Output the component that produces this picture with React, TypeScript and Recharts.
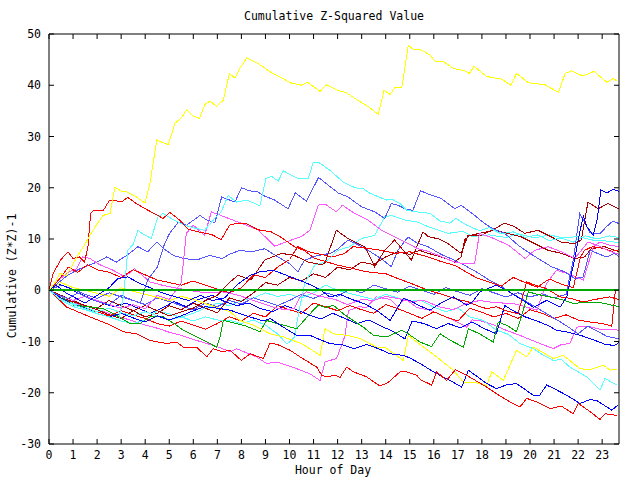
import React from 'react';
import { LineChart, Line, XAxis, YAxis } from 'recharts';

const hourTicks = [0, 1, 2, 3, 4, 5, 6, 7, 8, 9, 10, 11, 12, 13, 14, 15, 16, 17, 18, 19, 20, 21, 22, 23];
const valueTicks = [-30, -20, -10, 0, 10, 20, 30, 40, 50];

type Pt = [number, number];

const yellowTop: Pt[] = [[0,0],[0.25,1.5],[0.46,3.3],[0.7,2.8],[1.01,5.2],[1.29,7.5],[1.5,9],[1.7,10.7],[1.83,11.7],[2.05,13.3],[2.25,14.6],[2.54,15],[2.74,20.1],[3.02,19.3],[3.23,19.2],[3.64,18.2],[3.99,17],[4.2,20.9],[4.48,29.3],[4.96,28.4],[5.24,32.6],[5.52,33.7],[5.72,35.2],[6.0,34],[6.25,33.5],[6.49,36.3],[6.69,36.9],[6.97,35.9],[7.25,37.1],[7.5,42.3],[7.73,41.4],[7.94,43.3],[8.22,45.3],[8.63,44.4],[8.91,43.6],[9.26,42.4],[9.74,41.3],[10.02,40.5],[10.5,40],[10.74,40.6],[11.27,38.8],[11.52,40.1],[11.96,39.1],[12.38,38.5],[12.79,37.2],[13.35,35.6],[13.69,34.3],[13.93,39],[14.18,38.2],[14.39,39.6],[14.67,39.6],[14.94,47.8],[15.15,47],[15.43,47],[15.84,45.9],[16.05,44.7],[16.4,44.6],[16.81,43.3],[17.3,42.8],[17.48,42.3],[17.67,43.7],[18.2,41.7],[18.82,41.2],[19.2,40],[19.44,42.3],[19.93,40.5],[20.62,40.1],[21.18,38.6],[21.46,42.3],[21.73,42.8],[22.19,41.8],[22.66,42.7],[23.19,40.6],[23.46,41.3],[23.63,40.8]];

const yellowLow: Pt[] = [[0,0],[0.5,1.5],[1,0.5],[1.5,0],[2,-0.6],[2.5,-1.2],[3,0.5],[3.5,-0.2],[4,-0.8],[4.5,-1.4],[5,-2],[5.5,-1.2],[6,-1.8],[6.5,-2.6],[7,-3.4],[7.53,-4.2],[7.94,-5.9],[8.5,-6.8],[9.19,-8.5],[9.74,-9.1],[10.5,-10.4],[11.27,-12.7],[11.48,-7.5],[11.82,-8.5],[12.4,-8.8],[12.93,-9.4],[13.62,-11.1],[14.0,-11.2],[14.73,-13.7],[14.94,-8.8],[15.29,-10.1],[15.84,-12],[16.12,-13],[16.81,-15.6],[17.23,-17.9],[17.7,-18],[18.2,-18.6],[18.41,-15.9],[18.89,-17.6],[19.44,-11.7],[19.86,-13],[20.14,-11.1],[20.97,-13.3],[21.38,-12.7],[22.08,-15.3],[22.5,-15.5],[23.05,-14.6],[23.33,-15.6],[23.6,-15.4]];

const redA: Pt[] = [[0,0],[0.17,3.3],[0.5,6],[0.79,7.5],[1.0,6.2],[1.27,6.5],[1.48,5.5],[1.62,8.5],[1.73,15],[1.83,15.5],[2.25,15.5],[2.52,17.6],[2.87,17.4],[3.0,17.2],[3.28,18.1],[3.63,16.9],[4.12,15.6],[4.53,14.6],[4.74,14],[5.02,15.2],[5.43,13.7],[5.78,11.9],[6.2,11.4],[6.75,10.9],[7.16,9.9],[7.51,12.7],[7.86,13.1],[8.2,13],[8.69,11.8],[9.24,11.4],[9.66,10.3],[10.2,8.5],[10.6,7.8],[11.05,6.2],[11.5,5.6],[12,4.9],[12.5,4.4],[13,3.8],[13.5,3.4],[13.96,3.3],[14.5,2.3],[15.07,1.3],[15.76,0],[16.2,-0.6],[16.6,-1.2],[17,-1.8],[17.4,-2.2],[17.8,-3],[18.2,-3.6],[18.6,-3.2],[19,-4],[19.5,-4.6],[19.86,1.6],[20.3,0.9],[20.69,0.3],[21.25,-1.3],[21.7,-1.6],[22.2,-2.3],[22.7,-1.8],[23.3,-1.3],[23.7,-1.8]];

const redMid: Pt[] = [[0,0],[0.4,2],[0.8,4.5],[1.2,3.5],[1.6,5],[2.0,4],[2.5,3.5],[3,2.5],[3.5,4],[4,3],[4.5,2],[5,1.5],[5.5,1],[6,1.8],[6.5,1],[7,0.2],[7.5,-0.5],[8,0.5],[8.5,3],[9,2.5],[9.5,4.5],[10,6],[10.35,8.5],[10.8,7.5],[11.3,7],[11.8,6.5],[12.3,7.2],[12.64,8.5],[13.2,8.2],[13.8,7.8],[14.4,7.2],[15,7.5],[15.76,6.5],[16.3,5.6],[16.9,4.8],[17.4,3.4],[17.84,2.3],[18.3,1.6],[18.8,0.8],[19.3,2.5],[19.8,1.5],[20.3,0.6],[20.8,2.2],[21.3,1.2],[21.8,0.5],[22.1,6.5],[22.27,7.8],[22.6,8.5],[23.0,8.2],[23.4,7.6],[23.7,7.9]];

const redJump: Pt[] = [[0,0],[0.5,-1.5],[1,-2.5],[1.5,-3.5],[2,-4.2],[2.5,-5],[3,-4],[3.5,-4.8],[4,-5.5],[4.5,-6.5],[5,-7],[5.5,-6],[6,-6.8],[6.5,-7.6],[7,-6.5],[7.5,-5.2],[8,-6],[8.5,-4.5],[9,-5.2],[9.5,-3],[10,-3.8],[10.5,-4.5],[11,-2.5],[11.5,-3.2],[12,-4],[12.5,-3],[13,-3.8],[13.5,-4.5],[14,-2.8],[14.5,-3.6],[15,-4.5],[15.5,-5.5],[16,-4.2],[16.5,-5.2],[17,-6],[17.5,-3.5],[18,-4.3],[18.5,-5.2],[19,-4.5],[19.5,-5.5],[20,-3.8],[20.5,-4.5],[21,-5.5],[21.5,-4.8],[22,-5.8],[22.5,-6.2],[23,-6.5],[23.4,-7],[23.55,0],[23.7,0.2]];

const redLow: Pt[] = [[0,0],[0.74,-3.3],[1.2,-4.2],[1.7,-5.2],[2.4,-6.5],[3.09,-8.1],[3.65,-8.5],[4.2,-9.8],[4.89,-10.4],[5.31,-10.1],[5.58,-11.1],[6.14,-11.1],[6.56,-13],[6.83,-11.4],[7.2,-12],[7.53,-11.7],[8.0,-13.7],[8.36,-12.4],[8.91,-13.3],[9.19,-10.3],[9.5,-10.6],[10.02,-11.7],[10.44,-13],[11.13,-15],[11.34,-16.6],[11.55,-16.9],[11.89,-16.6],[12.1,-17],[12.38,-15],[12.65,-15.9],[13.21,-16.9],[13.76,-18.7],[14.1,-18],[14.6,-15.9],[14.87,-15.9],[15.29,-16.6],[15.43,-17.4],[15.91,-18.5],[16.12,-15.9],[16.53,-17.6],[16.9,-15.5],[17.37,-16.6],[18.2,-18.9],[18.61,-20.2],[19.17,-21.8],[19.58,-22.8],[19.86,-21.1],[20.3,-21.8],[20.83,-23.1],[21.3,-22.6],[21.8,-24.1],[22.01,-22.1],[22.5,-23.7],[22.91,-25.2],[23.12,-24.1],[23.6,-24.4]];

const cyanTop: Pt[] = [[0,0],[0.5,-1.8],[1,-2.8],[1.5,-3.6],[2,-4.5],[2.5,-5.2],[2.9,-5.8],[3.1,-1],[3.28,7.8],[3.5,9],[3.7,11.7],[3.9,11],[4.25,10.1],[4.53,14.3],[4.74,15],[5.08,14],[5.64,12.7],[6.0,12.2],[6.47,11.7],[6.89,14],[7.16,15.3],[7.45,18.5],[7.8,17.2],[8.22,17.6],[8.77,16.5],[9.02,21.8],[9.26,22.2],[9.53,21.3],[9.74,23.3],[10.3,21.9],[10.78,21.8],[10.99,25],[11.2,25],[11.68,23.4],[12.24,21.1],[12.72,20],[13.07,19.8],[13.35,18.9],[14.04,17.6],[14.25,17.8],[14.6,16.9],[14.87,15.6],[15.29,15.3],[15.84,15],[16.26,13.5],[16.67,13.1],[16.92,14],[17.37,12.7],[17.9,11.6],[18.3,12.2],[18.8,11],[19.3,11.4],[19.8,10.3],[20.3,10.8],[20.8,9.7],[21.3,10.2],[21.8,9.4],[22.3,10.6],[22.8,10],[23.3,10.6],[23.7,10.3]];

const cyanMid: Pt[] = [[0,0],[0.5,-1.6],[1,-2.6],[1.5,-3.3],[2,-4.2],[2.5,-3.5],[3,-4.4],[3.5,-5],[4,-4.2],[4.5,-5],[5,-5.8],[5.5,-5.2],[6,-6],[6.5,-5.2],[7,-5.8],[7.53,-5.9],[8,-6.5],[8.5,-5.8],[9,-6.8],[9.5,-8.5],[9.9,-10.5],[10.2,-9.2],[10.4,-4],[10.63,1.3],[11.05,4.9],[11.5,5.5],[12.02,7.8],[12.5,8.5],[12.99,10.1],[13.54,10.7],[13.96,14.3],[14.23,14.6],[14.79,13.7],[15.34,13.3],[15.76,12.4],[16.59,11.1],[17.2,11.5],[17.6,10.5],[18.3,10.8],[19,10.3],[19.5,11],[20.2,10.2],[20.8,10.8],[21.4,10.2],[22.0,10.5],[22.6,9.8],[23.2,9.6],[23.7,9.3]];

const cyanLow: Pt[] = [[0,0],[0.5,-2],[1,-3.2],[1.5,-3.8],[2,-4.6],[2.5,-5.2],[3,-6],[3.5,-6.5],[4,-5.8],[4.5,-4],[5,-4.6],[5.5,-5.3],[6,-4.5],[6.5,-3.5],[7,-2.5],[7.5,-3],[8,-2],[8.5,-1.5],[9,-0.5],[9.5,-1.2],[10,-0.8],[10.5,-1.5],[11,-0.5],[11.5,1],[12,0],[12.5,-0.6],[13,-1.2],[13.5,-1.8],[14,-0.8],[14.5,-1.5],[15,-2.2],[15.43,-1.9],[16,-3.3],[16.5,-4.2],[17,-3.5],[17.5,-5.2],[18.06,-5.9],[18.61,-7.8],[19.1,-8.6],[19.58,-10.4],[20.14,-11.4],[20.5,-12.5],[20.97,-13.7],[21.3,-13.5],[21.66,-15],[22.36,-16.9],[22.91,-19.5],[23.12,-17.2],[23.6,-18.5]];

const lightBlueA: Pt[] = [[0,0],[0.4,-1],[0.8,-1.6],[1.2,-0.5],[1.6,-1.5],[2.0,-2.2],[2.5,-2.8],[3,-1],[3.4,-1.8],[3.8,-2.5],[4.1,2],[4.5,4.5],[4.8,9],[5.0,11],[5.38,13.3],[5.72,12.7],[6.28,14.6],[6.56,13.7],[6.9,13.2],[7.18,18.2],[7.73,17.2],[8.0,20],[8.34,19.4],[8.69,19.2],[8.9,18.5],[9.38,17.6],[9.94,15.9],[10.24,19],[10.7,17.4],[11.21,22],[11.53,20.8],[12.02,19],[12.43,18.2],[12.99,16.3],[13.54,15.3],[13.96,14],[14.23,16.9],[14.51,16.6],[14.79,15.9],[15.13,15.6],[15.45,19.4],[15.76,18.8],[16.31,17.9],[16.87,15.9],[17.14,16.6],[17.7,14.6],[18.12,13],[18.46,12],[18.95,11.1],[19.5,8.8],[19.9,7.5],[20.33,6.2],[20.89,4.6],[21.44,3.6],[21.86,2.3],[22.2,2.5],[22.5,7.8],[22.9,7],[23.2,6.5],[23.5,7.2],[23.7,6.6]];

const lightBlueB: Pt[] = [[0,0],[0.5,1],[1,0.2],[1.5,-0.8],[2,-1.6],[2.5,-0.5],[3,-1.3],[3.5,-2],[4,-2.8],[4.5,-1.5],[5,-2.2],[5.5,-3],[6,-3.8],[6.5,-2.5],[7,-3.2],[7.5,-2],[8,-2.7],[8.5,-1.5],[9,-2.2],[9.5,-3],[10,-2],[10.5,-0.8],[11,-1.6],[11.5,-0.5],[12,-1.2],[12.5,0.2],[13,-0.5],[13.5,1],[14,0.3],[14.5,-0.4],[15,0.8],[15.5,0],[16,-0.8],[16.5,0.5],[17,-0.3],[17.5,-1],[18,0.3],[18.5,-0.5],[19,-1.3],[19.5,-0.5],[20,-1.3],[20.5,-0.7],[21,-1.5],[21.5,-0.8],[21.8,5.9],[22.07,15],[22.5,11.2],[22.9,11],[23.2,12.5],[23.45,13.5],[23.7,13]];

const lightBlueC: Pt[] = [[0,0],[0.4,1.5],[0.8,3],[1.2,4],[1.6,4.8],[2,5.5],[2.4,6.5],[2.8,5.5],[3.23,6.8],[3.7,8.5],[4.1,7.5],[4.48,9.4],[4.8,8],[5.17,6.8],[5.6,6.2],[6.14,5.9],[6.69,6.8],[7.2,6.2],[7.5,7],[7.94,7.8],[8.4,7.5],[8.97,8.1],[9.52,6.5],[10.0,5.2],[10.35,3.6],[10.63,5.9],[11.19,6.8],[11.7,7.2],[12.0,8],[12.43,9.8],[12.8,9],[13.26,7.8],[13.8,6.2],[14.23,4.6],[14.51,7.8],[14.93,10.4],[15.3,9.2],[15.76,8.5],[16.3,7],[16.8,6],[17.3,4.8],[17.8,3.5],[18.3,2],[18.8,0.8],[19.2,-0.5],[19.7,-1.8],[20.2,-3.2],[20.7,-4.6],[21.2,-6],[21.6,-7.2],[22.0,-8.5],[22.4,-7],[22.8,-8],[23.2,-9],[23.7,-9.5]];

const magentaA: Pt[] = [[0,0],[0.5,-1.2],[1,-2],[1.5,-1.2],[2,-2],[2.5,-2.8],[3,-3.5],[3.5,-2.8],[4,-3.6],[4.5,-1],[5,-1.8],[5.5,1.5],[5.71,11.1],[6.0,12.7],[6.47,10.7],[6.75,15.3],[7.2,14.5],[7.86,13.3],[8.69,11.8],[9.38,8.6],[9.9,9.5],[10.5,10.5],[10.85,11.7],[11.2,16.6],[11.48,16.8],[11.95,15.3],[12.2,16.6],[12.71,15],[13.26,13.7],[13.82,11.7],[14.37,10.4],[14.93,9.1],[15.34,8.1],[15.76,7.6],[16.3,6.6],[16.8,5.6],[17.1,5.3],[17.7,5.3],[17.9,11.1],[18.5,10.1],[19.1,8.8],[19.8,6.2],[20.2,7.8],[20.75,8.5],[21.3,7.5],[21.86,6.2],[22.41,9.4],[22.9,8.6],[23.3,7.6],[23.7,7.0]];

const magentaB: Pt[] = [[0,0],[0.4,2],[0.8,3.5],[1.15,4.2],[1.4,6.5],[1.7,6.2],[2.1,5],[2.67,3.9],[3.15,2.6],[3.56,4.2],[4.2,1.6],[4.7,1],[5.2,0.5],[5.8,0],[6.5,-0.5],[7.2,-0.3],[7.9,-1],[8.5,-2],[9.33,-3.3],[9.8,-3.8],[10.2,-3.6],[10.44,-1.3],[10.7,-0.3],[11.3,-1.2],[11.9,-1.8],[12.4,-2.8],[13.0,-1.8],[13.49,-2],[14.0,-1.2],[14.5,-1.6],[15.0,-2.2],[15.6,-2],[16.2,-3.2],[16.8,-3.8],[17.4,-2.5],[17.92,-2],[18.5,-2.4],[19.3,-2.6],[19.8,-3.2],[20.28,-3.9],[20.69,1.3],[21.1,3.9],[21.6,3.2],[22.22,2],[22.64,8.5],[22.9,9.4],[23.3,8.8],[23.7,8.5]];

const magentaLow: Pt[] = [[0,0],[0.5,-1.5],[1,-2.5],[1.5,-3],[2,-3.8],[2.5,-4.5],[3,-5.3],[3.5,-6],[4,-6.8],[4.5,-7.4],[5,-8.2],[5.5,-8.8],[6,-9.6],[6.5,-10.3],[7,-11],[7.53,-12],[7.8,-11.4],[8.1,-12],[8.63,-13],[9.05,-14.3],[9.47,-14],[10.3,-15.3],[10.85,-16.3],[11.27,-17.6],[11.48,-14],[11.96,-13.3],[12.3,-9],[12.45,-4],[12.9,-3.2],[13.2,-3.4],[13.6,-1.3],[14.2,-1.8],[14.5,-3.2],[14.8,-1.6],[15.3,-3.4],[15.84,-3.9],[16.3,-4.8],[16.8,-5.8],[17.37,-7.2],[17.6,-5.8],[17.92,-5.9],[18.5,-6.8],[19.0,-7.8],[19.58,-8.8],[20.2,-10],[20.97,-11.4],[21.3,-10.6],[21.66,-10.4],[21.94,-7.2],[22.4,-7],[22.9,-7.6],[23.3,-7.6],[23.7,-7.8]];

const blueJump: Pt[] = [[0,0],[0.3,1],[0.7,-0.5],[1.1,-1.5],[1.5,-2.5],[2.0,-1],[2.5,0.5],[2.87,2.3],[3.28,2.6],[3.7,1.5],[4.2,0.5],[4.7,-0.5],[5.2,-1.2],[5.8,-2],[6.3,-1],[6.8,-2],[7.3,-1.5],[7.8,1],[8.36,2.9],[8.77,3.6],[9.33,3.9],[9.88,2.9],[10.4,2],[10.9,1],[11.3,0],[11.68,-1.3],[12.1,-0.8],[12.6,-1.8],[13.1,-2.6],[13.62,-3.9],[14.18,-5.9],[14.73,-1.6],[15.0,-2],[15.4,-3],[15.84,-3.9],[16.26,-2.6],[16.81,-1.3],[17.37,-2.9],[17.6,-2.3],[17.92,-0.3],[18.61,1],[19.03,0],[19.58,-1.6],[20.14,-3.3],[20.69,-2],[21.25,-3.3],[21.53,-1.3],[21.87,6.5],[22.07,11.4],[22.22,14.5],[22.35,12.5],[22.63,10.7],[22.8,14],[22.95,19.6],[23.2,19],[23.45,19.7],[23.7,19.3]];

const blueMid: Pt[] = [[0,0],[0.4,1.2],[0.8,0.5],[1.2,-0.5],[1.7,-1.5],[2.2,-2.5],[2.7,-3.2],[3.2,-2.5],[3.7,-3.5],[4.2,-4.5],[4.7,-3.5],[5.2,-2.2],[5.7,-3.2],[6.2,-1.8],[6.8,-1],[7.3,-2.2],[7.8,-3],[8.3,-2.5],[8.8,-3.6],[9.3,-4.2],[9.8,-3],[10.3,-3.8],[10.8,-4.8],[11.3,-5.6],[11.8,-4.5],[12.3,-5.5],[12.8,-6.5],[13.3,-5.8],[13.8,-7],[14.3,-8],[14.8,-9.5],[15.1,-6],[15.6,-6.5],[16.1,-7.5],[16.6,-6.5],[17.1,-7.3],[17.6,-6.2],[18.1,-7.5],[18.6,-8.5],[18.95,-3],[19.3,-4],[19.8,-5.2],[20.3,-6],[20.8,-7],[21.1,-7.8],[21.6,-8.2],[22.1,-8.8],[22.6,-9.6],[23.1,-10.5],[23.5,-10.8],[23.7,-10.2]];

const blueLow: Pt[] = [[0,0],[0.5,-1.5],[1,-2.8],[1.5,-3.5],[2,-4.5],[2.5,-5.2],[3,-4.5],[3.5,-5.4],[4,-6.2],[4.5,-5],[5,-5.8],[5.5,-5],[6,-4],[6.5,-3.2],[7,-3.5],[7.53,-3.9],[8.36,-5.2],[8.9,-6],[9.2,-5.5],[9.74,-7.2],[10.3,-8.8],[10.85,-8.8],[11.2,-9.5],[11.68,-10.4],[12.24,-10.7],[12.7,-11.4],[13.2,-10.6],[13.7,-11.4],[14.18,-12.4],[14.73,-12.7],[15.0,-13.2],[15.43,-14.3],[15.98,-15.9],[16.67,-17.6],[17.16,-18.9],[17.44,-15.6],[18.2,-18.2],[18.61,-19.2],[19.0,-18.5],[19.44,-18.2],[20.14,-20.5],[20.4,-20.5],[20.69,-18.5],[21.0,-19.2],[21.53,-20.5],[22.08,-22.1],[22.5,-21.3],[22.8,-21.6],[23.4,-23.4],[23.66,-22.4]];

const darkRedA: Pt[] = [[0,0],[0.5,-1],[1,-2],[1.5,-3],[2,-3.5],[2.5,-2],[3,-3],[3.5,-4],[4,-3],[4.5,-4],[5,-5],[5.5,-4.2],[6,-3.5],[6.5,-2],[7,-1],[7.5,1.5],[7.86,2.9],[8.4,2],[8.97,5.9],[9.66,7.2],[10.2,6.8],[10.77,5.5],[11.3,5],[11.46,5.2],[11.95,11.7],[12.43,10.1],[13.13,8.5],[13.54,4.6],[13.96,7.8],[14.37,9.8],[15.07,5.9],[15.55,11.4],[15.76,10.5],[16.2,10],[16.59,9.1],[16.9,8],[17.14,7.2],[17.42,10.7],[17.97,10.7],[18.53,12],[18.95,13.1],[19.36,12.4],[19.78,11.1],[20.33,11.7],[20.89,10.4],[21.3,9.4],[21.86,9.1],[22.13,9.8],[22.41,17.2],[22.83,15.9],[23.24,16.9],[23.7,15.9]];

const darkRedB: Pt[] = [[0,0],[0.5,-1.5],[1,-2.2],[1.5,-3],[2,-3.8],[2.5,-4.8],[3,-5.5],[3.5,-4],[4,-5.2],[4.5,-4.5],[5,-3],[5.5,-3.8],[6,-2.5],[6.5,-3.5],[7,-4.4],[7.5,-1.5],[8,-2.2],[8.5,-0.5],[9,1.5],[9.5,1],[10,2.5],[10.5,1.8],[11,3.2],[11.5,2.5],[12,4.5],[12.5,4],[13,5.5],[13.5,5],[14,6.5],[14.5,7.5],[15,7],[15.4,7.8],[15.76,7.2],[16.31,6.5],[16.87,5.5],[17.14,6.5],[17.28,9.8],[17.49,10.7],[18.53,11.7],[19.64,10.4],[20.2,9.1],[20.75,7.8],[21.3,7.2],[21.86,6.2],[22.27,6.5],[22.55,8.1],[23.1,8.5],[23.7,7.5]];

const greenWalk: Pt[] = [[0,0],[0.5,-1.2],[1.01,-2.9],[1.6,-3.2],[2.26,-3.6],[2.81,-4.9],[3.37,-6.5],[3.78,-6.5],[4.2,-5.2],[4.75,-5.2],[5.2,-6.5],[5.58,-7.8],[6.28,-9.4],[6.97,-11.1],[7.11,-9.1],[7.25,-5.9],[7.53,-6.2],[8.2,-7],[8.77,-8.1],[9.05,-5.9],[9.5,-6.5],[10.3,-7.5],[10.85,-4.6],[11.2,-2.9],[11.5,-3.4],[11.82,-2.9],[12.24,-4.6],[13.07,-7.2],[13.49,-8.8],[14.04,-9.1],[14.67,-7.8],[14.9,-8.4],[15.43,-10.1],[15.9,-11],[16.26,-8.5],[16.7,-9.8],[17.23,-11.1],[17.44,-7.5],[17.9,-8.5],[18.47,-10.1],[18.68,-6.2],[19.1,-7],[19.44,-8.1],[19.72,-3.9],[19.93,-0.3],[20.3,-0.8],[20.83,-1.3],[21.3,-1.8],[21.8,-2.6],[22.36,-2.3],[22.9,-2.4],[23.3,-2.8],[23.7,-3.2]];

const zeroLine: Pt[] = [[0,0],[23.7,0]];

const seriesList: { pts: Pt[]; color: string; width?: number }[] = [
  { pts: magentaLow, color: '#ff55ff' },
  { pts: cyanLow, color: '#55ffff' },
  { pts: redJump, color: '#ff0000' },
  { pts: lightBlueB, color: '#5555ff' },
  { pts: lightBlueC, color: '#5555ff' },
  { pts: darkRedB, color: '#aa0000' },
  { pts: blueMid, color: '#0000ff' },
  { pts: magentaB, color: '#ff55ff' },
  { pts: redMid, color: '#ff0000' },
  { pts: cyanMid, color: '#55ffff' },
  { pts: darkRedA, color: '#aa0000' },
  { pts: greenWalk, color: '#00aa00' },
  { pts: yellowLow, color: '#ffff00' },
  { pts: blueLow, color: '#0000ff' },
  { pts: redLow, color: '#ff0000' },
  { pts: magentaA, color: '#ff55ff' },
  { pts: lightBlueA, color: '#5555ff' },
  { pts: cyanTop, color: '#55ffff' },
  { pts: redA, color: '#ff0000' },
  { pts: blueJump, color: '#0000ff' },
  { pts: zeroLine, color: '#00aa00', width: 2 },
  { pts: yellowTop, color: '#ffff00' },
];

const FONT = '"DejaVu Sans Mono", "Liberation Mono", monospace';
const FS = 11.5;

const BottomTick = (p: any) => (
  <g>
    <line x1={p.x} y1={p.y} x2={p.x} y2={p.y - 5} stroke="#000" />
    <text x={p.x} y={p.y + 15} textAnchor="middle" fontFamily={FONT} fontSize={FS} fill="#000">
      {p.payload.value}
    </text>
  </g>
);
const TopTick = (p: any) => (
  <line x1={p.x} y1={p.y} x2={p.x} y2={p.y + 5} stroke="#000" />
);
const LeftTick = (p: any) => (
  <g>
    <line x1={p.x} y1={p.y} x2={p.x + 5} y2={p.y} stroke="#000" />
    <text x={p.x - 8} y={p.y + 4} textAnchor="end" fontFamily={FONT} fontSize={FS} fill="#000">
      {p.payload.value}
    </text>
  </g>
);
const RightTick = (p: any) => (
  <line x1={p.x} y1={p.y} x2={p.x - 5} y2={p.y} stroke="#000" />
);

export default function App() {
  const textStyle: React.CSSProperties = {
    position: 'absolute',
    fontFamily: FONT,
    fontSize: FS,
    color: '#000',
    whiteSpace: 'nowrap',
    lineHeight: '12px',
  };
  return (
    <div style={{ position: 'absolute', left: 0, top: 0, width: 640, height: 480, background: '#fff' }}>
      <style>{`.recharts-line-curve{shape-rendering:crispEdges}`}</style>
      <LineChart width={640} height={480} margin={{ top: 24, right: 11, bottom: 16, left: 29 }}>
        <XAxis
          dataKey="h"
          type="number"
          domain={[0, 23.7]}
          ticks={hourTicks}
          interval={0}
          allowDataOverflow
          height={20}
          tickSize={0}
          tickMargin={0}
          tickLine={false}
          axisLine={{ stroke: '#000' }}
          tick={BottomTick}
        />
        <XAxis
          xAxisId="t"
          orientation="top"
          dataKey="h"
          type="number"
          domain={[0, 23.7]}
          ticks={hourTicks}
          interval={0}
          allowDataOverflow
          height={10}
          tickSize={0}
          tickMargin={0}
          tickLine={false}
          axisLine={{ stroke: '#000' }}
          tick={TopTick}
        />
        <YAxis
          type="number"
          domain={[-30, 50]}
          ticks={valueTicks}
          interval={0}
          allowDataOverflow
          width={20}
          tickSize={0}
          tickMargin={0}
          tickLine={false}
          axisLine={{ stroke: '#000' }}
          tick={LeftTick}
        />
        <YAxis
          yAxisId="r"
          orientation="right"
          type="number"
          domain={[-30, 50]}
          ticks={valueTicks}
          interval={0}
          allowDataOverflow
          width={10}
          tickSize={0}
          tickMargin={0}
          tickLine={false}
          axisLine={{ stroke: '#000' }}
          tick={RightTick}
        />
        {seriesList.map((s, i) => (
          <Line
            key={i}
            data={s.pts.map(([h, v]) => ({ h, v }))}
            dataKey="v"
            type="linear"
            stroke={s.color}
            strokeWidth={s.width ?? 1}
            dot={false}
            activeDot={false}
            isAnimationActive={false}
          />
        ))}
      </LineChart>
      <div style={{ ...textStyle, left: 0, width: 668, top: 10, textAlign: 'center' }}>Cumulative Z-Squared Value</div>
      <div style={{ ...textStyle, left: 0, width: 666, top: 464, textAlign: 'center' }}>Hour of Day</div>
      <div
        style={{
          ...textStyle,
          left: 12,
          top: 276,
          transform: 'translate(-50%, -50%) rotate(-90deg)',
        }}
      >
        Cumulative (Z*Z)-1
      </div>
    </div>
  );
}
